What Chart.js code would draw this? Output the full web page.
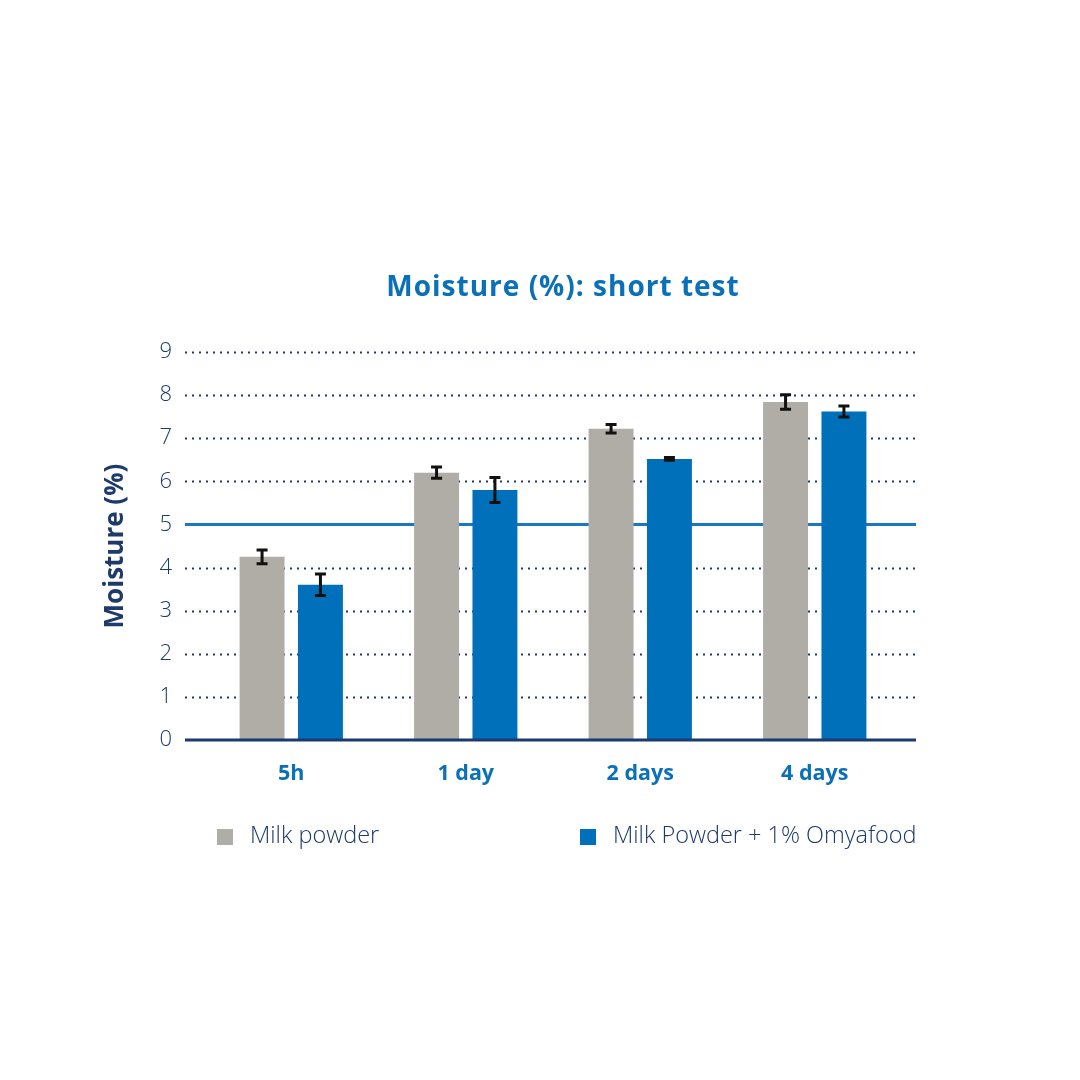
<!DOCTYPE html>
<html>
<head>
<meta charset="utf-8">
<script src="https://cdn.jsdelivr.net/npm/chart.js@4.4.0/dist/chart.umd.min.js"></script>
<style>
html,body{margin:0;padding:0;background:#fff;}
#wrap{width:1080px;height:1080px;position:relative;}
</style>
</head>
<body>
<div id="wrap"><canvas id="c" width="1080" height="1080"></canvas></div>
<script>
const categories = ['5h', '1 day', '2 days', '4 days'];
const seriesNames = ['Milk powder', 'Milk Powder + 1% Omyafood'];
const milkPowder = [4.25, 6.2, 7.22, 7.84];
const milkPowderErr = [0.16, 0.13, 0.1, 0.17];
const omyafood = [3.6, 5.8, 6.52, 7.62];
const omyafoodErr = [0.25, 0.29, 0.03, 0.13];
const yTicks = [0, 1, 2, 3, 4, 5, 6, 7, 8, 9];
const chartTitle = 'Moisture (%): short test';
const yTitle = 'Moisture (%)';

const GRAY = '#b0aca6';
const BLUE = '#0070ba';
const NAVY = '#1d3a69';
const TITLE_BLUE = '#0a70b8';

const errors = [milkPowderErr, omyafoodErr];

const decorPlugin = {
  id: 'decor',
  beforeDatasetsDraw(chart) {
    const ctx = chart.ctx;
    const y = chart.scales.y;
    const ca = chart.chartArea;
    const x0 = ca.left - 19, x1 = ca.right + 14;
    ctx.save();
    yTicks.forEach(v => {
      const py = Math.round(y.getPixelForValue(v)) + 0.5;
      if (v === 0) return;
      ctx.beginPath();
      if (v === 5) {
        ctx.setLineDash([]);
        ctx.strokeStyle = '#1a78c2';
        ctx.lineWidth = 3;
      } else {
        ctx.setLineDash([2, 5]);
        ctx.strokeStyle = NAVY;
        ctx.lineWidth = 2.2;
      }
      ctx.moveTo(x0, py);
      ctx.lineTo(x1, py);
      ctx.stroke();
    });
    ctx.restore();
  },
  afterDatasetsDraw(chart) {
    const ctx = chart.ctx;
    const y = chart.scales.y;
    const ca = chart.chartArea;
    ctx.save();
    const p0 = y.getPixelForValue(0);
    ctx.beginPath();
    ctx.strokeStyle = '#1b3b6f';
    ctx.lineWidth = 3;
    ctx.moveTo(ca.left - 19, p0);
    ctx.lineTo(ca.right + 14, p0);
    ctx.stroke();
    ctx.strokeStyle = '#111';
    ctx.lineWidth = 3;
    chart.data.datasets.forEach((ds, di) => {
      const meta = chart.getDatasetMeta(di);
      meta.data.forEach((bar, i) => {
        const v = ds.data[i], e = errors[di][i];
        const yt = y.getPixelForValue(v + e);
        const yb = y.getPixelForValue(v - e);
        const cx = bar.x;
        ctx.beginPath();
        ctx.moveTo(cx, yt); ctx.lineTo(cx, yb);
        ctx.moveTo(cx - 5.5, yt); ctx.lineTo(cx + 5.5, yt);
        ctx.moveTo(cx - 5.5, yb); ctx.lineTo(cx + 5.5, yb);
        ctx.stroke();
      });
    });
    ctx.restore();
  },
  afterDraw(chart) {
    const ctx = chart.ctx;
    const ca = chart.chartArea;
    ctx.save();
    ctx.fillStyle = TITLE_BLUE;
    ctx.font = 'bold 28px "Open Sans"';
    ctx.letterSpacing = '1px';
    ctx.textAlign = 'center';
    ctx.textBaseline = 'middle';
    ctx.fillText(chartTitle, 563, 288);
    ctx.letterSpacing = '0px';
    ctx.save();
    ctx.translate(116, (ca.top + ca.bottom) / 2);
    ctx.rotate(-Math.PI / 2);
    ctx.fillStyle = NAVY;
    ctx.font = 'bold 26px "Open Sans"';
    ctx.fillText(yTitle, 0, 0);
    ctx.restore();
    const items = [
      {x: 217, color: GRAY, label: seriesNames[0]},
      {x: 580, color: BLUE, label: seriesNames[1]}
    ];
    ctx.textAlign = 'left';
    ctx.textBaseline = 'middle';
    ctx.font = '300 23.5px "Open Sans"';
    items.forEach(it => {
      ctx.fillStyle = it.color;
      ctx.fillRect(it.x, 829, 16, 16);
      ctx.fillStyle = NAVY;
      ctx.fillText(it.label, it.x + 33, 836);
    });
    ctx.restore();
  }
};

new Chart(document.getElementById('c'), {
  type: 'bar',
  data: {
    labels: categories,
    datasets: [
      {label: seriesNames[0], data: milkPowder, backgroundColor: GRAY, borderWidth: 0},
      {label: seriesNames[1], data: omyafood, backgroundColor: BLUE, borderWidth: 0}
    ]
  },
  options: {
    responsive: false,
    animation: false,
    devicePixelRatio: 1,
    layout: {padding: {left: 0, right: 178, top: 352, bottom: 0}},
    plugins: {legend: {display: false}, title: {display: false}, tooltip: {enabled: false}},
    datasets: {bar: {categoryPercentage: 0.669, barPercentage: 0.77}},
    scales: {
      x: {
        grid: {display: false, drawTicks: false},
        border: {display: false},
        ticks: {
          color: TITLE_BLUE,
          font: {family: '"Open Sans"', size: 21.5, weight: 'bold'},
          padding: 21
        },
        afterFit(scale) { scale.height = 340; }
      },
      y: {
        min: 0, max: 9,
        grid: {display: false, drawTicks: false},
        border: {display: false},
        ticks: {
          stepSize: 1,
          color: NAVY,
          font: {family: '"Open Sans"', size: 22, weight: '300'},
          padding: 32
        },
        afterFit(scale) { scale.width = 204; }
      }
    }
  },
  plugins: [decorPlugin]
});
</script>
</body>
</html>
